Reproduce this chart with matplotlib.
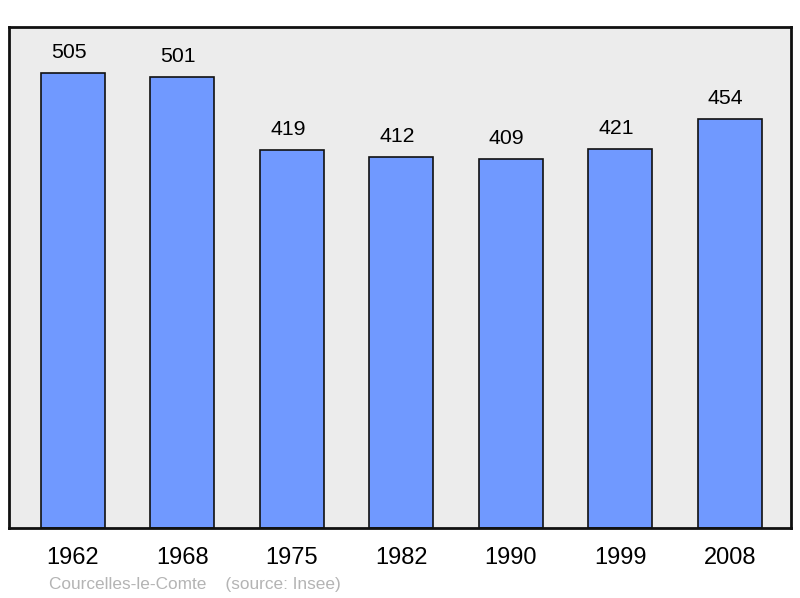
import matplotlib
matplotlib.use("Agg")
import matplotlib.pyplot as plt

years = ["1962", "1968", "1975", "1982", "1990", "1999", "2008"]
population = [505, 501, 419, 412, 409, 421, 454]

plt.rcParams['font.family'] = ['Liberation Sans', 'DejaVu Sans']

fig = plt.figure(figsize=(8.0, 5.98), dpi=100)
ax = fig.add_axes([9/800, 70/598, 782/800, 501/598])
ax.set_facecolor('#ececec')

x = list(range(len(years)))
ax.bar(x, population, width=0.585, color='#7099ff', edgecolor='#111111', linewidth=1.2, zorder=2)
for xi, v in zip(x, population):
    ax.annotate(str(v), (xi, v), xytext=(-3, 10.8), textcoords='offset points',
                ha='center', va='baseline', fontsize=15.3, color='#000000')

ax.set_xlim(-0.585, 6.56)
ax.set_ylim(0, 556)
ax.set_xticks(x)
ax.set_xticklabels(years, fontsize=17)
ax.tick_params(axis='x', length=0, pad=14)
ax.set_yticks([])
for s in ax.spines.values():
    s.set_linewidth(2)
    s.set_color('#111111')

fig.text(49/800, 1 - 584/598, "Courcelles-le-Comte    (source: Insee)", fontsize=12.4,
         color='#b4b4b4', ha='left', va='center')

fig.savefig("out.png", dpi=100)
